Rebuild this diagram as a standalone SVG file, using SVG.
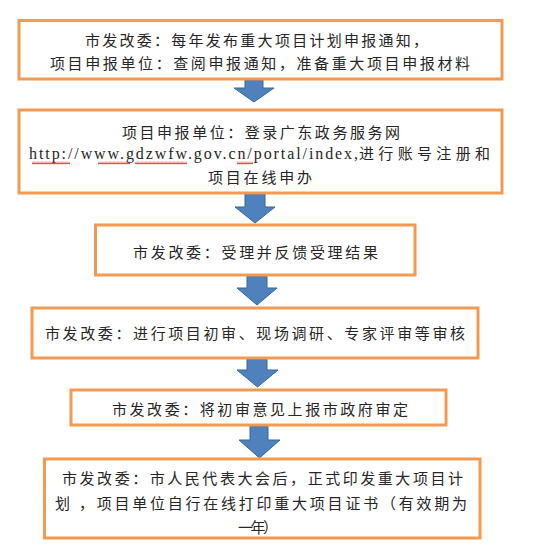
<svg xmlns="http://www.w3.org/2000/svg" width="553" height="552" viewBox="0 0 553 552">
<style>
.box{fill:#fff;stroke:#F39A52;stroke-width:3}
.t{font-family:"Noto Sans CJK SC","Noto Sans",sans-serif;font-size:15px;fill:#262626}
.u{font-family:"Liberation Serif","DejaVu Serif",serif;font-size:16px;fill:#262626}
.arr{fill:#4F81BD;stroke:#3B6699;stroke-width:1}
</style>
<defs>
<pattern id="wave" width="4" height="3" patternUnits="userSpaceOnUse">
<path d="M0,2.5 L1,0.5 L2,2.5 L3,0.5 L4,2.5" fill="none" stroke="#E02020" stroke-width="0.8"/>
</pattern>
</defs>
<rect width="553" height="552" fill="#fff"/>
<g id="connectors">
<path class="arr" d="M245,80 H263 V88 H274 L254,102 L234,88 H245 Z"/>
<path class="arr" d="M245,194 H265 V207 H275 L255,223 L235,207 H245 Z"/>
<path class="arr" d="M247,276 H267 V288 H277 L257,305 L237,288 H247 Z"/>
<path class="arr" d="M247,359 H267 V370 H278 L257.5,387 L237,370 H247 Z"/>
<path class="arr" d="M250,426 H268 V440 H280 L259.5,458 L239,440 H250 Z"/>
</g>
<g id="n1">
<rect class="box" x="19" y="20.5" width="483" height="58.5"/>
<text class="t" x="85" y="45.5" textLength="343" lengthAdjust="spacing">市发改委：每年发布重大项目计划申报通知，</text>
<text class="t" x="50" y="68.5" textLength="420" lengthAdjust="spacing">项目申报单位：查阅申报通知，准备重大项目申报材料</text>
</g>
<g id="n2">
<rect class="box" x="19" y="110" width="483" height="83"/>
<text class="t" x="122" y="137.5" textLength="278" lengthAdjust="spacing">项目申报单位：登录广东政务服务网</text>
<text class="u" x="29" y="158.5" textLength="329" lengthAdjust="spacing">http://www.gdzwfw.gov.cn/portal/index,</text>
<text class="t" x="359" y="158.5" textLength="131" lengthAdjust="spacing">进行账号注册和</text>
<rect x="32" y="161.5" width="38" height="3" fill="url(#wave)"/>
<rect x="98" y="161.5" width="32" height="3" fill="url(#wave)"/>
<rect x="135" y="161.5" width="52" height="3" fill="url(#wave)"/>
<rect x="237" y="161.5" width="16" height="3" fill="url(#wave)"/>
<text class="t" x="208" y="182.5" textLength="104" lengthAdjust="spacing">项目在线申办</text>
</g>
<g id="n3">
<rect class="box" x="95.5" y="225" width="319.5" height="50"/>
<text class="t" x="133" y="257.5" textLength="245" lengthAdjust="spacing">市发改委：受理并反馈受理结果</text>
</g>
<g id="n4">
<rect class="box" x="32" y="308" width="446" height="50"/>
<text class="t" x="45" y="338.5" textLength="420" lengthAdjust="spacing">市发改委：进行项目初审、现场调研、专家评审等审核</text>
</g>
<g id="n5">
<rect class="box" x="71" y="390" width="375" height="35"/>
<text class="t" x="112" y="414.5" textLength="296" lengthAdjust="spacing">市发改委：将初审意见上报市政府审定</text>
</g>
<g id="n6">
<rect class="box" x="44.5" y="459" width="435.5" height="79"/>
<text class="t" x="62" y="483.5" textLength="401" lengthAdjust="spacing">市发改委：市人民代表大会后，正式印发重大项目计</text>
<text class="t" x="55" y="508.5" textLength="412" lengthAdjust="spacing">划 ，项目单位自行在线打印重大项目证书（有效期为</text>
<text class="t" x="238" y="532.5" textLength="40" lengthAdjust="spacing">一年）</text>
</g>
</svg>
